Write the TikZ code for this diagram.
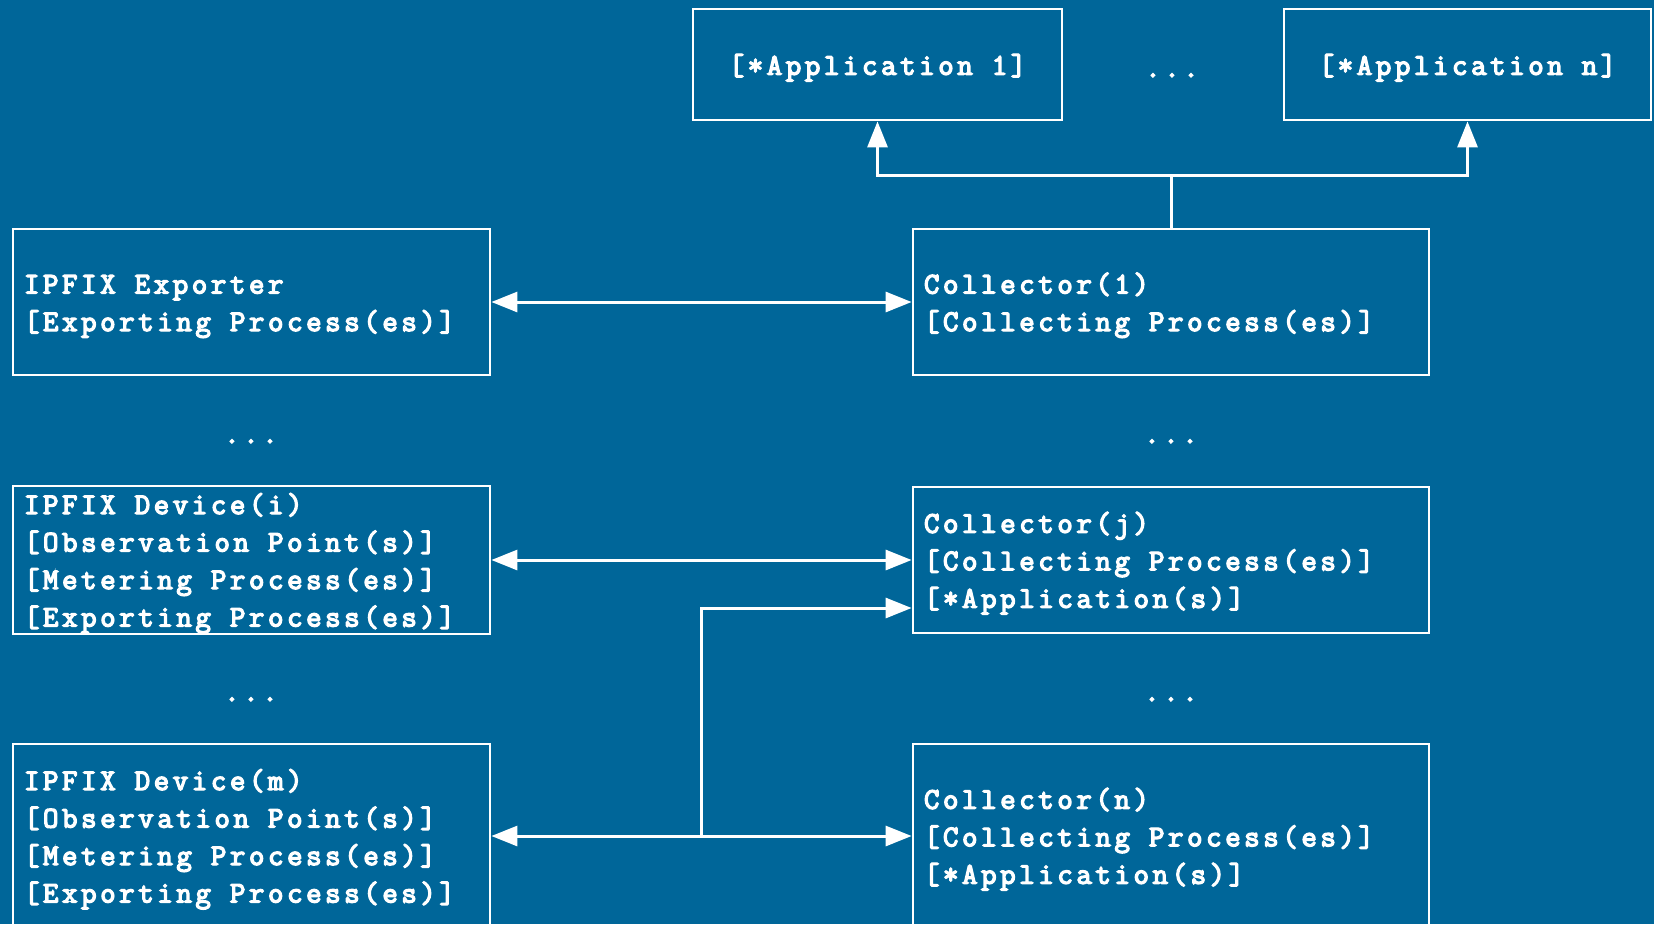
\documentclass[tikz,border=0pt]{standalone}
\usepackage{fontspec}
\usetikzlibrary{arrows.meta}
\definecolor{bgblue}{RGB}{0,102,153}
\newfontfamily\diagfont[FakeBold=4.5,LetterSpace=12]{Latin Modern Mono}
\newcommand{\diagtext}{\diagfont\fontsize{30}{37.5}\selectfont}
\tikzset{
  px/.style={x=1pt,y=-1pt},
  box/.style={draw=white, line width=2.8pt, rectangle, inner xsep=11pt, inner ysep=0pt,
    text=white, align=flush left, font=\diagtext,
    execute at begin node={\rule{0pt}{28pt}},
    execute at end node={\rule[-7.5pt]{0pt}{7.5pt}}},
  lbox/.style={box, text width=455pt, minimum height=146pt},
  rbox/.style={box, text width=494pt, minimum height=146pt},
  abox/.style={box, minimum width=369pt, minimum height=111pt, align=flush center},
  dots/.style={text=white, inner sep=0pt, anchor=base, font=\diagtext},
  conn/.style={draw=white, line width=3pt},
  arr/.style={conn, -{Triangle[length=26pt,width=20pt]}},
  darr/.style={conn, {Triangle[length=26pt,width=20pt]}-{Triangle[length=26pt,width=20pt]}}
}
\begin{document}
\begin{tikzpicture}[px]
\fill[bgblue] (0,0) rectangle (1654,924);
\useasboundingbox (0,0) rectangle (1654,924);
\clip (0,0) rectangle (1654,924);

\node[abox] (app1) at (877.5,64.5) {[*Application 1]};
\node[abox, minimum width=367pt] (appn) at (1467.5,64.5) {[*Application n]};
\node[dots] (d0) at (1172,77) {...};

\node[lbox] (exp) at (251.5,302) {IPFIX Exporter\\{}[Exporting Process(es)]};
\node[rbox] (col1) at (1171,302) {Collector(1)\\{}[Collecting Process(es)]};

\node[dots] (d1) at (251,443) {...};
\node[dots] (d2) at (1171,443) {...};

\node[lbox] (devi) at (251.5,560) {IPFIX Device(i)\\{}[Observation Point(s)]\\{}[Metering Process(es)]\\{}[Exporting Process(es)]};
\node[rbox] (colj) at (1171,560) {Collector(j)\\{}[Collecting Process(es)]\\{}[*Application(s)]};

\node[dots] (d3) at (251,701) {...};
\node[dots] (d4) at (1171,701) {...};

\node[lbox, minimum height=184pt] (devm) at (251.5,836) {IPFIX Device(m)\\{}[Observation Point(s)]\\{}[Metering Process(es)]\\{}[Exporting Process(es)]};
\node[rbox, minimum height=184pt] (coln) at (1171,836) {Collector(n)\\{}[Collecting Process(es)]\\{}[*Application(s)]};

% connectors
\coordinate (j) at (1171,175);
\draw[conn] (col1.north) -- (j);
\draw[arr] (j) -| (app1.south);
\draw[arr] (j) -| (appn.south);

\draw[darr] (exp.east) -- (col1.west);
\draw[darr] (devi.east) -- (colj.west);
\draw[darr] (devm.east) -- (coln.west);

\coordinate (br) at (701,836);
\draw[arr] (br) |- ([yshift=-48pt]colj.west);
\end{tikzpicture}
\end{document}
